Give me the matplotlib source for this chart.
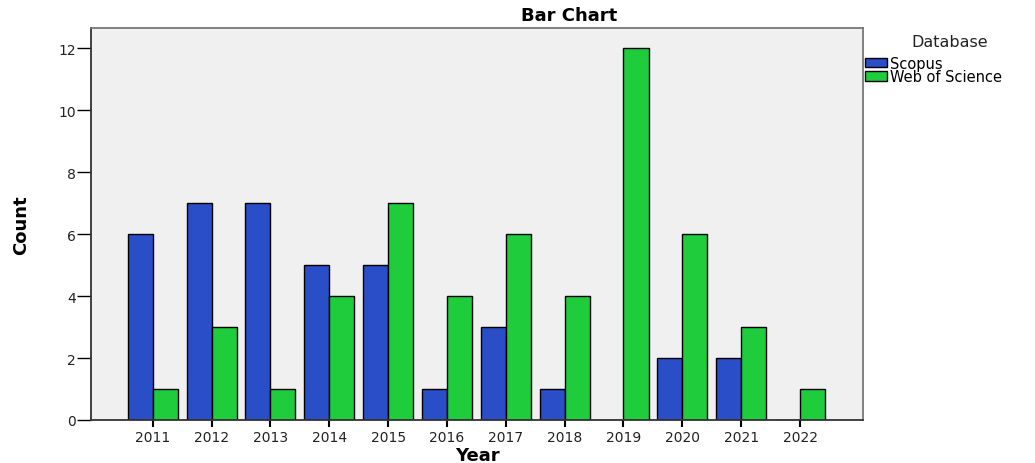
import matplotlib.pyplot as plt
import numpy as np

plt.rcParams['font.family'] = ['DejaVu Sans']

years = ['2011', '2012', '2013', '2014', '2015', '2016', '2017', '2018', '2019', '2020', '2021', '2022']
scopus = [6, 7, 7, 5, 5, 1, 3, 1, 0, 2, 2, 0]
wos = [1, 3, 1, 4, 7, 4, 6, 4, 12, 6, 3, 1]

fig = plt.figure(figsize=(10.35, 4.64), dpi=100)
ax = fig.add_axes([0.0879, 0.0927, 0.7459, 0.8448])
ax.set_facecolor('#f0f0f0')

x = np.arange(len(years))
w = 0.425
b1 = ax.bar(x - w / 2, scopus, w, color='#2a4dc8', edgecolor='black', linewidth=1, label='Scopus')
b2 = ax.bar(x + w / 2, wos, w, color='#1ecc3c', edgecolor='black', linewidth=1, label='Web of Science')

ax.set_xlim(-1.05, 12.07)
ax.set_ylim(0, 12.65)
ax.set_xticks(x)
ax.set_xticklabels(years, fontsize=10, color='#222222')
ax.set_yticks(range(0, 13, 2))
ax.tick_params(axis='y', labelsize=10, labelcolor='#222222', length=10, width=1, pad=1)
ax.tick_params(axis='x', length=5, width=1.5, pad=2)

for s in ['left', 'bottom']:
    ax.spines[s].set_color('#333333')
for s in ['top', 'right']:
    ax.spines[s].set_color('#777777')
for s in ax.spines.values():
    s.set_linewidth(1.3)

ax.set_xlabel('Year', fontsize=13, fontweight='bold', va='center')
ax.xaxis.set_label_coords(0.5, -0.09)
ax.set_ylabel('Count', fontsize=13, fontweight='bold', va='center')
ax.yaxis.set_label_coords(-0.09, 0.5)
fig.text(0.55, 0.965, 'Bar Chart', ha='center', va='center', fontsize=13, fontweight='bold')

fig.text(0.918, 0.908, 'Database', ha='center', va='center', fontsize=11.5, color='#222222')
fig.legend(handles=[b1, b2], loc='upper left', bbox_to_anchor=(0.836, 0.878),
           frameon=False, fontsize=10.5, handlelength=1.5, handleheight=0.6,
           handletextpad=0.2, labelspacing=-0.1, borderpad=0.0, borderaxespad=0.0)

fig.savefig('out.png', dpi=100)
